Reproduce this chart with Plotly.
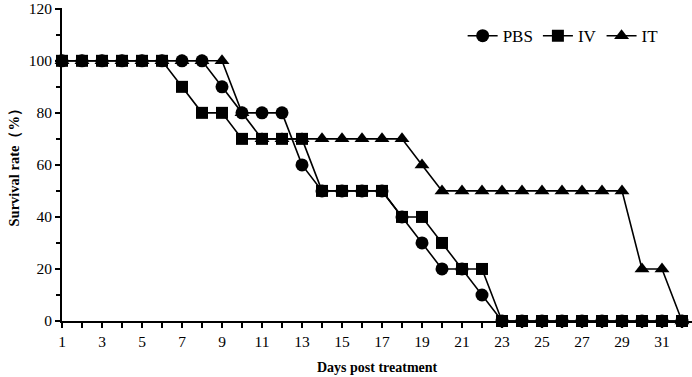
import plotly.graph_objects as go

days = list(range(1, 33))
pbs = [100, 100, 100, 100, 100, 100, 100, 100, 90, 80, 80, 80, 60, 50, 50, 50,
       50, 40, 30, 20, 20, 10, 0, 0, 0, 0, 0, 0, 0, 0, 0, 0]
iv = [100, 100, 100, 100, 100, 100, 90, 80, 80, 70, 70, 70, 70, 50, 50, 50,
      50, 40, 40, 30, 20, 20, 0, 0, 0, 0, 0, 0, 0, 0, 0, 0]
it = [100, 100, 100, 100, 100, 100, 100, 100, 100, 80, 70, 70, 70, 70, 70, 70,
      70, 70, 60, 50, 50, 50, 50, 50, 50, 50, 50, 50, 50, 20, 20, 0]
y_ticks = [0, 20, 40, 60, 80, 100, 120]
x_ticks = list(range(1, 33, 2))

font_family = "Liberation Serif, Times New Roman, serif"

fig = go.Figure()
series = [("PBS", pbs, "circle", 13), ("IV", iv, "square", 12), ("IT", it, "triangle-up", 13)]
for name, vals, sym, size in series:
    fig.add_trace(go.Scatter(
        x=days, y=vals, name=name, mode="lines+markers", cliponaxis=False,
        line=dict(color="black", width=1.6),
        marker=dict(symbol=sym, size=size, color="black"),
    ))

fig.update_layout(
    width=692, height=377,
    margin=dict(l=62, r=0, t=8, b=56),
    paper_bgcolor="white", plot_bgcolor="white",
    font=dict(family=font_family, size=15, color="black"),
    showlegend=True,
    legend=dict(orientation="h", x=0.955, xanchor="right", y=0.91, yanchor="middle",
                font=dict(size=17), itemwidth=30, bgcolor="rgba(0,0,0,0)"),
    xaxis=dict(
        range=[1, 32.5], tickvals=x_ticks, showgrid=False, zeroline=False,
        showline=True, linecolor="black", linewidth=2, automargin=False,
        ticks="outside", ticklen=5, tickwidth=2, tickcolor="black",
        minor=dict(dtick=1, tick0=1, ticks="outside", ticklen=5, tickwidth=2, tickcolor="black", showgrid=False),
        tickfont=dict(size=15.5),
    ),
    yaxis=dict(
        range=[0, 120.3], tickvals=y_ticks, showgrid=False, zeroline=False,
        showline=True, linecolor="black", linewidth=2, automargin=False,
        ticks="outside", ticklen=5, tickwidth=2, tickcolor="black",
        minor=dict(dtick=10, ticks="outside", ticklen=4, tickwidth=2, tickcolor="black", showgrid=False),
        tickfont=dict(size=15.5),
    ),
    annotations=[
        dict(text="<b>Days post treatment</b>", xref="paper", yref="paper", x=0.5, y=0,
             yshift=-46, xanchor="center", yanchor="middle", showarrow=False, font=dict(size=14)),
        dict(text="<b>Survival rate（%）</b>", xref="paper", yref="paper", x=0, y=0.5,
             xshift=-49, xanchor="center", yanchor="middle", showarrow=False, textangle=-90,
             font=dict(size=14.5)),
    ],
)

fig.write_html("out.html", config={"displayModeBar": False},
               post_script="document.body.style.margin='0';")
